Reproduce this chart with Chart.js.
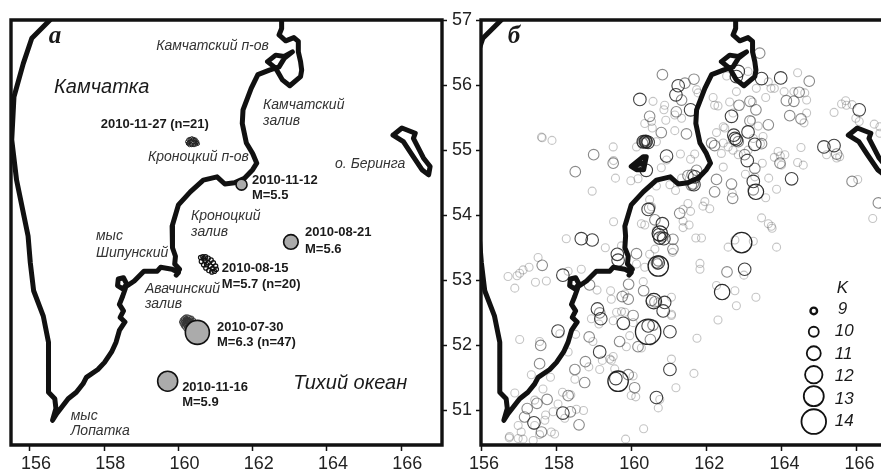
<!DOCTYPE html>
<html>
<head>
<meta charset="utf-8">
<script src="https://cdn.jsdelivr.net/npm/chart.js@4"></script>
<style>
    html, body { margin: 0; padding: 0; background: #fff; width: 881px; height: 472px; overflow: hidden; }
    canvas { position: absolute; top: 0; }
    #chartA { left: 0; }
    #chartB { left: 461px; }
</style>
</head>
<body>
<canvas id="chartA" width="481" height="472"></canvas>
<canvas id="chartB" width="420" height="472"></canvas>
<script>
const lonTicks = [156, 158, 160, 162, 164, 166];
const latTicks = [51, 52, 53, 54, 55, 56, 57];

// Coastline, [lon, lat]
const coastMain = [[162.78,57.0],[162.78,56.87],[162.71,56.77],[162.89,56.68],[163.11,56.73],[163.23,56.67],[163.23,56.51],[163.29,56.36],[163.32,56.23],[163.29,56.13],[163.0,55.99],[162.8,56.08],[162.62,56.26],[162.4,56.36],[162.62,56.46],[162.85,56.44],[163.07,56.51],[162.85,56.41],[162.71,56.28],[162.45,56.23],[162.14,56.16],[161.96,55.95],[161.74,55.62],[161.72,55.41],[161.83,55.11],[162.0,54.95],[162.11,54.8],[162.0,54.7],[161.78,54.57],[161.51,54.5],[161.25,54.48],[161.04,54.59],[160.67,54.54],[160.32,54.36],[160.0,54.16],[159.83,53.83],[159.85,53.68],[159.83,53.5],[159.92,53.37],[159.9,53.25],[160.03,53.17],[159.94,53.08],[160.0,53.12],[159.83,53.17],[159.52,53.2],[159.43,53.14],[159.07,53.14],[158.81,52.99],[158.63,52.92],[158.52,53.04],[158.38,53.02],[158.36,52.92],[158.5,52.87],[158.61,52.94],[158.5,52.76],[158.41,52.63],[158.52,52.53],[158.43,52.43],[158.56,52.36],[158.41,52.23],[158.32,52.05],[158.2,51.9],[158.01,51.74],[157.83,51.63],[157.52,51.51],[157.43,51.41],[157.25,51.28],[157.03,51.18],[156.72,50.95],[156.61,50.85],[156.7,51.03],[156.67,51.18],[156.5,51.28],[156.5,52.05],[156.36,52.45],[156.1,52.84],[156.01,53.27],[155.95,53.68],[155.64,54.54],[155.51,55.16],[155.57,55.82],[155.82,56.33],[156.05,56.72],[156.54,57.0]];
const beringIsland = [[165.78,55.23],[166.02,55.34],[166.38,55.26],[166.33,55.18],[166.6,54.88],[166.78,54.75],[166.74,54.62],[166.56,54.7],[166.29,54.93],[166.06,55.13],[165.78,55.23]];
const kronotskyLake = [[160.0,54.75],[160.32,54.9],[160.4,54.9],[160.33,54.7],[160.14,54.7],[160.0,54.75],[160.32,54.8]];

// Panel a: main shocks and their aftershocks
const shock1112 = [[161.7,54.47]];
const shock0821 = [[163.03,53.59]];
const shock0730 = [[160.51,52.2]];
const shock1116 = [[159.71,51.45]];
const swarm1127 = [[160.24,55.13],[160.27,55.16],[160.31,55.17],[160.36,55.18],[160.41,55.17],[160.46,55.16],[160.5,55.13],[160.52,55.1],[160.47,55.09],[160.42,55.08],[160.36,55.08],[160.3,55.08],[160.26,55.1],[160.29,55.12],[160.33,55.14],[160.45,55.12],[160.49,55.11],[160.38,55.16],[160.34,55.09],[160.44,55.15],[160.27,55.11]];
const swarm0815 = [[160.6,53.35],[160.66,53.36],[160.73,53.36],[160.8,53.34],[160.88,53.31],[160.94,53.27],[161.0,53.22],[161.02,53.17],[160.97,53.14],[160.9,53.13],[160.82,53.15],[160.74,53.19],[160.68,53.24],[160.62,53.29],[160.72,53.3],[160.8,53.27],[160.86,53.22],[160.76,53.24],[160.92,53.18],[160.68,53.33]];
const swarm0730 = [[160.08,52.36],[160.1,52.39],[160.13,52.41],[160.17,52.43],[160.2,52.44],[160.25,52.44],[160.3,52.43],[160.34,52.41],[160.38,52.38],[160.42,52.35],[160.44,52.31],[160.45,52.27],[160.1,52.33],[160.13,52.3],[160.16,52.28],[160.2,52.25],[160.24,52.23],[160.28,52.22],[160.14,52.37],[160.18,52.39],[160.22,52.41],[160.26,52.4],[160.3,52.39],[160.34,52.37],[160.37,52.34],[160.4,52.31],[160.17,52.34],[160.2,52.36],[160.24,52.37],[160.28,52.36],[160.31,52.34],[160.34,52.31],[160.37,52.28],[160.2,52.31],[160.23,52.33],[160.27,52.32],[160.3,52.3],[160.33,52.27],[160.22,52.28],[160.26,52.28],[160.29,52.26],[160.16,52.32],[160.12,52.35],[160.41,52.39],[160.36,52.42],[160.19,52.41],[160.23,52.39]];

// Panel b: earthquakes by energy class K
const quakesK9 = [[161.74,55.93],[161.78,55.88],[160.58,55.75],[160.89,55.69],[160.87,55.62],[161.16,55.54],[161.34,55.49],[160.92,55.46],[160.36,55.41],[160.54,55.44],[160.56,55.34],[161.16,55.30],[157.61,55.20],[157.63,55.19],[157.89,55.15],[160.14,55.05],[160.67,55.13],[159.52,55.05],[159.53,54.84],[159.58,54.57],[159.99,54.53],[160.18,54.56],[158.96,54.37],[161.31,54.94],[160.94,54.85],[160.80,54.73],[161.58,54.86],[161.69,54.94],[161.34,54.57],[161.03,54.47],[161.18,54.38],[160.67,54.45],[160.49,54.24],[160.54,54.13],[161.51,54.18],[161.58,54.06],[161.38,54.09],[161.96,54.21],[161.91,54.14],[162.09,54.10],[161.38,53.91],[161.54,53.85],[161.38,53.81],[159.53,53.90],[160.27,53.87],[160.36,53.85],[160.67,53.77],[162.18,55.81],[162.22,55.69],[162.31,55.68],[162.62,55.74],[162.80,55.90],[162.54,56.14],[163.11,56.21],[163.33,55.95],[164.43,56.19],[163.72,55.95],[163.81,55.95],[163.65,56.05],[164.07,55.90],[164.33,55.90],[164.62,55.88],[163.58,55.81],[164.67,55.77],[164.67,55.57],[164.60,55.42],[163.23,55.74],[162.71,55.57],[163.20,55.46],[163.38,55.37],[162.45,55.36],[162.49,55.34],[162.27,55.27],[162.45,55.11],[162.40,54.95],[162.58,55.05],[162.71,55.00],[162.85,54.93],[163.44,55.10],[163.51,55.21],[163.49,54.80],[162.45,54.74],[163.11,55.00],[163.25,55.18],[163.81,54.89],[163.97,54.91],[164.09,54.93],[163.91,54.98],[164.00,54.77],[164.43,54.81],[164.58,54.77],[164.52,55.04],[163.66,54.57],[163.04,54.63],[163.29,54.59],[162.69,54.34],[163.58,54.27],[163.87,54.40],[165.20,54.93],[165.47,54.88],[165.55,54.90],[165.40,55.58],[165.60,55.71],[165.71,55.76],[165.73,55.69],[165.88,55.70],[165.98,55.49],[166.07,55.44],[166.47,55.40],[166.62,55.36],[166.62,55.26],[166.03,54.55],[166.43,53.95],[163.47,53.96],[163.65,53.87],[163.73,53.83],[163.75,53.80],
    [158.27,53.64],[159.31,53.50],[159.74,53.53],[160.49,53.40],[160.63,53.48],[161.10,53.43],[160.14,53.25],[160.36,53.20],[161.72,53.65],[161.87,53.65],[161.83,53.26],[161.83,53.17],[162.58,53.51],[162.76,53.62],[163.25,53.60],[163.87,53.51],[163.00,53.08],[162.27,52.92],[162.76,52.84],[163.32,52.74],[162.80,52.61],[162.31,52.39],[161.75,52.11],[161.07,51.79],[161.67,51.57],[161.19,51.35],[161.07,52.74],[160.71,52.66],[161.07,52.48],[161.07,52.46],[160.32,52.98],[159.83,52.79],[159.61,52.51],[159.74,52.52],[159.83,52.51],[159.52,52.38],[159.47,52.71],[159.45,52.84],[159.09,52.85],[158.32,53.14],[158.67,53.17],[157.52,53.35],[157.28,53.20],[157.12,53.16],[157.03,53.11],[156.96,53.07],[156.72,53.06],[156.90,52.88],[157.45,52.97],[157.74,52.99],[158.94,52.41],[159.14,52.33],[158.98,52.06],[158.10,52.18],[158.52,52.17],[158.32,51.90],[157.56,52.06],[157.03,52.09],[157.34,51.55],[157.85,51.51],[158.50,51.48],[158.87,51.67],[159.16,51.63],[159.23,51.77],[159.43,51.79],[159.47,51.77],[159.52,51.83],[159.56,51.64],[160.05,52.35],[159.96,52.15],[160.27,51.96],[159.87,51.98],[160.05,51.53],[160.00,51.23],[160.12,51.21],[160.76,51.17],[160.72,51.04],[160.33,50.72],[159.85,50.56],[158.17,51.28],[158.39,51.24],[157.43,51.16],[156.90,51.27],[157.65,51.33],[158.05,51.10],[157.92,50.98],[158.54,51.02],[158.73,51.00],[157.72,50.93],[157.70,50.85],[157.43,50.77],[157.56,50.63],[156.99,50.77],[157.07,50.67],[156.76,50.60],[156.75,50.58],[156.99,50.57],[157.12,50.56],[157.39,50.54],[157.87,50.67],[157.96,50.64],[158.23,50.88]];
const quakesK10 = [[163.42,56.49],[161.43,56.03],[161.67,56.09],[160.83,56.16],[161.34,55.77],[161.20,55.59],[160.49,55.52],[160.80,55.27],[161.47,55.25],[160.36,55.15],[160.42,55.12],[160.30,55.11],[160.34,55.13],[160.38,55.11],[160.40,55.15],[159.00,54.93],[159.52,54.80],[158.51,54.67],[161.74,54.69],[161.62,54.62],[161.65,54.48],[161.60,54.46],[161.51,54.61],[160.49,54.11],[161.29,54.03],[160.63,53.93],[160.83,53.67],[164.74,56.06],[164.47,55.89],[164.13,55.76],[164.33,55.75],[164.22,55.53],[164.52,55.48],[162.87,55.69],[163.16,55.75],[163.32,55.62],[163.16,55.45],[163.65,55.39],[162.85,55.13],[162.14,55.11],[162.22,55.07],[163.02,54.93],[163.47,55.10],[163.29,54.72],[163.96,54.80],[162.67,54.48],[162.70,54.26],[162.27,54.55],[162.22,54.36],[163.25,54.39],[165.47,54.94],[165.88,54.52],[166.58,54.19],
    [160.14,53.41],[161.11,53.63],[161.11,53.48],[160.67,53.27],[160.72,53.30],[160.70,53.25],[162.55,53.13],[160.63,52.67],[160.54,52.69],[160.33,52.84],[159.93,52.94],[159.76,52.75],[159.92,52.71],[160.05,52.46],[158.89,52.93],[157.63,53.23],[159.16,52.50],[158.88,52.13],[157.59,52.00],[157.56,51.72],[158.50,51.63],[158.78,51.75],[158.76,51.43],[160.58,52.31],[160.51,52.09],[159.69,52.06],[160.18,51.98],[159.92,51.55],[160.09,51.35],[158.32,51.23],[157.76,51.17],[157.49,51.11],[157.23,51.03],[157.16,50.90],[158.38,50.98],[157.61,50.67],[158.61,50.78]];
const quakesK11 = [[161.25,55.99],[161.19,55.85],[160.23,55.78],[161.58,55.62],[160.32,55.13],[160.39,55.13],[160.45,55.12],[160.94,54.91],[160.40,54.69],[161.69,54.59],[161.67,54.47],[160.45,54.09],[160.83,53.87],[160.74,53.70],[162.85,56.21],[162.80,56.13],[163.47,56.10],[163.98,56.11],[162.67,55.52],[163.11,55.28],[162.73,55.23],[162.76,55.18],[162.80,55.16],[163.09,54.84],[163.29,55.09],[163.25,54.52],[164.27,54.56],[165.13,55.05],[165.40,55.07],[166.07,55.62],
    [158.67,53.64],[158.96,53.62],[159.63,53.40],[159.65,53.31],[160.76,53.65],[160.87,53.64],[160.72,53.27],[163.02,53.17],[161.03,51.63],[161.03,52.21],[160.89,52.66],[160.85,52.53],[159.79,52.34],[158.18,53.08],[159.10,52.56],[159.19,52.41],[158.05,52.22],[159.16,51.90],[160.45,52.30],[159.59,51.49],[160.67,51.20],[158.18,50.96],[157.41,50.81]];
const quakesK12 = [[163.32,54.36],[160.76,53.72],[162.42,52.82],[160.60,52.68]];
const quakesK13 = [[162.94,53.58],[160.72,53.22],[159.65,51.45]];
const quakesK14 = [[160.45,52.21]];

const legendLon = [164.86, 164.86, 164.86, 164.86, 164.86, 164.86];
const legendLat = [52.53, 52.21, 51.88, 51.55, 51.22, 50.83];

const FONT = '"Liberation Sans", Arial, sans-serif';
const fonts = {
    tag: 'italic bold 25px "Liberation Serif", serif',
    big: 'italic 20px ' + FONT,
    name: 'italic 14px ' + FONT,
    date: 'bold 13px ' + FONT,
    key: 'italic 17px ' + FONT
};

// [text, lon, lat, font]
const labelsA = [
    ['а', 156.51, 56.74, 'tag'],
    ['Камчатский п-ов', 159.40, 56.60, 'name'],
    ['Камчатка', 156.65, 55.97, 'big'],
    ['Камчатский', 162.28, 55.69, 'name'],
    ['залив', 162.28, 55.45, 'name'],
    ['2010-11-27 (n=21)', 157.91, 55.39, 'date'],
    ['Кроноцкий п-ов', 159.18, 54.90, 'name'],
    ['о. Беринга', 164.22, 54.79, 'name'],
    ['2010-11-12', 161.98, 54.54, 'date'],
    ['M=5.5', 161.98, 54.31, 'date'],
    ['Кроноцкий', 160.34, 53.99, 'name'],
    ['залив', 160.34, 53.74, 'name'],
    ['2010-08-21', 163.41, 53.73, 'date'],
    ['M=5.6', 163.41, 53.47, 'date'],
    ['мыс', 157.78, 53.68, 'name'],
    ['Шипунский', 157.78, 53.42, 'name'],
    ['2010-08-15', 161.17, 53.18, 'date'],
    ['M=5.7 (n=20)', 161.17, 52.93, 'date'],
    ['Авачинский', 159.10, 52.87, 'name'],
    ['залив', 159.10, 52.64, 'name'],
    ['2010-07-30', 161.04, 52.28, 'date'],
    ['M=6.3 (n=47)', 161.04, 52.04, 'date'],
    ['Тихий океан', 163.09, 51.41, 'big'],
    ['2010-11-16', 160.10, 51.36, 'date'],
    ['M=5.9', 160.10, 51.13, 'date'],
    ['мыс', 157.10, 50.92, 'name'],
    ['Лопатка', 157.10, 50.69, 'name']
];
const labelsB = [
    ['б', 156.71, 56.75, 'tag'],
    ['K', 165.47, 52.88, 'key'],
    ['9', 165.5, 52.56, 'key'],
    ['10', 165.42, 52.21, 'key'],
    ['11', 165.42, 51.87, 'key'],
    ['12', 165.42, 51.52, 'key'],
    ['13', 165.42, 51.18, 'key'],
    ['14', 165.42, 50.84, 'key']
];

function toPoints(list) {
    return list.map(function (p) { return { x: p[0], y: p[1] }; });
}

function coastSet(list) {
    return {
        data: toPoints(list),
        showLine: true,
        borderColor: '#111',
        borderWidth: 5,
        borderJoinStyle: 'round',
        borderCapStyle: 'round',
        pointRadius: 0,
        fill: false
    };
}

function ringSet(list, radius, color, width) {
    return {
        data: toPoints(list),
        pointRadius: radius,
        pointBackgroundColor: 'rgba(0,0,0,0)',
        pointBorderColor: color,
        pointBorderWidth: width,
        showLine: false
    };
}

function shockSet(list, radius) {
    return {
        data: toPoints(list),
        pointRadius: radius,
        pointBackgroundColor: '#ababab',
        pointBorderColor: '#111',
        pointBorderWidth: 1.6,
        showLine: false
    };
}

function mapPlugin(labels, closed) {
    return {
        id: 'mapDecor',
        afterDraw: function (chart) {
            const ctx = chart.ctx;
            const area = chart.chartArea;
            const sx = chart.scales.x;
            const sy = chart.scales.y;
            ctx.save();
            ctx.strokeStyle = '#111';
            ctx.lineWidth = 3.4;
            ctx.beginPath();
            ctx.moveTo(area.right, area.top);
            ctx.lineTo(area.left, area.top);
            ctx.lineTo(area.left, area.bottom);
            ctx.lineTo(area.right, area.bottom);
            if (closed) ctx.closePath();
            ctx.stroke();
            ctx.textAlign = 'left';
            ctx.textBaseline = 'middle';
            labels.forEach(function (l) {
                ctx.font = fonts[l[3]];
                ctx.fillStyle = l[3] === 'name' ? '#333' : '#1a1a1a';
                ctx.fillText(l[0], sx.getPixelForValue(l[1]), sy.getPixelForValue(l[2]));
            });
            ctx.restore();
        }
    };
}

function mapOptions(xMin, xMax, opts) {
    return {
        responsive: false,
        animation: false,
        events: [],
        layout: { autoPadding: false, padding: { left: opts.padLeft, top: 20, right: 0, bottom: 0 } },
        plugins: { legend: { display: false }, tooltip: { enabled: false } },
        scales: {
            x: {
                type: 'linear',
                min: xMin,
                max: xMax,
                afterBuildTicks: function (scale) {
                    scale.ticks = lonTicks.map(function (v) { return { value: v }; });
                },
                afterFit: function (scale) { scale.height = 27; },
                border: { display: false },
                grid: { drawOnChartArea: false, tickLength: 6, tickColor: '#111', tickWidth: 1.5 },
                ticks: {
                    autoSkip: false,
                    maxRotation: 0,
                    padding: 2,
                    labelOffset: opts.labelOffset,
                    color: '#222',
                    font: { family: FONT, size: 18 },
                    callback: function (v) { return String(v); }
                }
            },
            y: {
                type: 'linear',
                position: opts.yPosition,
                min: 50.47,
                max: 57,
                afterBuildTicks: function (scale) {
                    scale.ticks = latTicks.map(function (v) { return { value: v }; });
                },
                afterFit: function (scale) { scale.width = opts.yWidth; },
                border: { display: false },
                grid: { drawOnChartArea: false, tickLength: 5, tickColor: '#111', tickWidth: 1.5 },
                ticks: {
                    display: opts.showLat,
                    padding: 5,
                    color: '#222',
                    font: { family: FONT, size: 18 },
                    callback: function (v) { return String(v); }
                }
            }
        }
    };
}

// Panel a
new Chart(document.getElementById('chartA').getContext('2d'), {
    type: 'scatter',
    data: {
        datasets: [
            shockSet(shock0730, 12),
            shockSet(shock1116, 10),
            shockSet(shock0821, 7.3),
            shockSet(shock1112, 5.5),
            ringSet(swarm1127, 1.8, '#222', 1),
            ringSet(swarm0815, 2.2, '#111', 1.2),
            ringSet(swarm0730, 2, '#333', 0.9),
            coastSet(coastMain),
            coastSet(beringIsland)
        ]
    },
    options: mapOptions(155.49, 167.1, { padLeft: 11, labelOffset: 6, yPosition: 'right', yWidth: 39, showLat: true }),
    plugins: [mapPlugin(labelsA, true)]
});

// Panel b
const legendPoints = legendLon.map(function (lon, i) { return [lon, legendLat[i]]; });
const legendRadii = [3.3, 5, 7, 8.7, 10, 12.3];
const legendSets = legendPoints.map(function (p, i) {
    return ringSet([p], legendRadii[i], '#111', i === 0 ? 2.4 : 1.8);
});

new Chart(document.getElementById('chartB').getContext('2d'), {
    type: 'scatter',
    data: {
        datasets: [
            coastSet(coastMain),
            coastSet(beringIsland),
            coastSet(kronotskyLake)
        ].concat(legendSets, [
            ringSet(quakesK14, 12.7, '#222', 1.3),
            ringSet(quakesK13, 10.2, '#222', 1.3),
            ringSet(quakesK12, 7.7, '#2a2a2a', 1.2),
            ringSet(quakesK11, 6.3, 'rgba(30,30,30,0.85)', 1.1),
            ringSet(quakesK10, 5.3, 'rgba(60,60,60,0.6)', 1.1),
            ringSet(quakesK9, 4, 'rgba(70,70,70,0.32)', 1.1)
        ])
    },
    options: mapOptions(156, 166.65, { padLeft: 0, labelOffset: 3, yPosition: 'left', yWidth: 20, showLat: false }),
    plugins: [mapPlugin(labelsB, false)]
});
</script>
</body>
</html>
